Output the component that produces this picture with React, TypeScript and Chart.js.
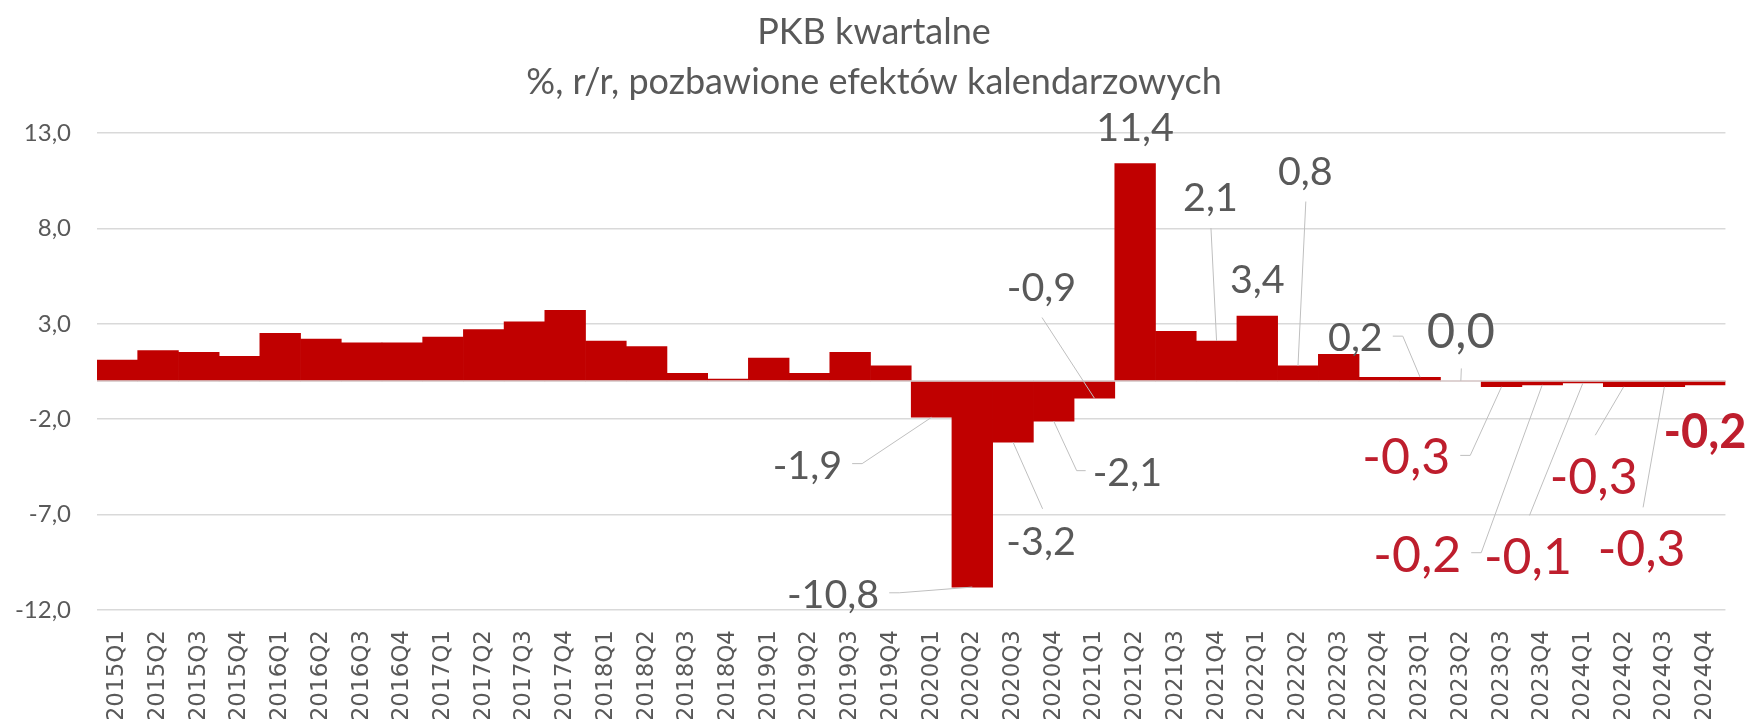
import React, { useEffect, useRef } from 'react';
import { Chart, registerables } from 'chart.js';

Chart.register(...registerables);

// ---- data ----
const TITLE_LINES = ['PKB kwartalne', '%, r/r, pozbawione efektów kalendarzowych'];

const QUARTERS = [
  '2015Q1', '2015Q2', '2015Q3', '2015Q4',
  '2016Q1', '2016Q2', '2016Q3', '2016Q4',
  '2017Q1', '2017Q2', '2017Q3', '2017Q4',
  '2018Q1', '2018Q2', '2018Q3', '2018Q4',
  '2019Q1', '2019Q2', '2019Q3', '2019Q4',
  '2020Q1', '2020Q2', '2020Q3', '2020Q4',
  '2021Q1', '2021Q2', '2021Q3', '2021Q4',
  '2022Q1', '2022Q2', '2022Q3', '2022Q4',
  '2023Q1', '2023Q2', '2023Q3', '2023Q4',
  '2024Q1', '2024Q2', '2024Q3', '2024Q4',
];

const GDP_YY = [
  1.1, 1.6, 1.5, 1.3,
  2.5, 2.2, 2.0, 2.0,
  2.3, 2.7, 3.1, 3.7,
  2.1, 1.8, 0.4, 0.1,
  1.2, 0.4, 1.5, 0.8,
  -1.9, -10.8, -3.2, -2.1,
  -0.9, 11.4, 2.6, 2.1,
  3.4, 0.8, 1.4, 0.2,
  0.2, 0.0, -0.3, -0.2,
  -0.1, -0.3, -0.3, -0.2,
];

const Y_MIN = -12;
const Y_MAX = 13;
const Y_STEP = 5;

// ---- label layout (offsets from bar end: dx in categories, dy in value units) ----
const GRAY = '#595959';
const RED = '#BE1E2D';
type Side = 'none' | 'left' | 'right' | 'top' | 'bottom';
interface LabelSpec { i: number; dx: number; dy: number; side: Side; size: number; color: string; bold?: boolean }

const LABEL_LAYOUT: LabelSpec[] = [
  { i: 20, dx: -3.05, dy: -2.48, side: 'right', size: 39.5, color: GRAY },
  { i: 21, dx: -3.42, dy: -0.35, side: 'right', size: 39.5, color: GRAY },
  { i: 22, dx: 0.69, dy: -5.17, side: 'top', size: 39.5, color: GRAY },
  { i: 23, dx: 1.81, dy: -2.65, side: 'left', size: 39.5, color: GRAY },
  { i: 24, dx: -1.3, dy: 5.84, side: 'bottom', size: 39.5, color: GRAY },
  { i: 25, dx: 0, dy: 1.9, side: 'none', size: 39.5, color: GRAY },
  { i: 27, dx: -0.15, dy: 7.53, side: 'bottom', size: 39.5, color: GRAY },
  { i: 28, dx: 0, dy: 1.96, side: 'none', size: 39.5, color: GRAY },
  { i: 29, dx: 0.18, dy: 10.22, side: 'bottom', size: 39.5, color: GRAY },
  { i: 32, dx: -1.59, dy: 2.1, side: 'right', size: 39.5, color: GRAY },
  { i: 33, dx: 0, dy: 2.66, side: 'bottom', size: 49, color: GRAY },
  { i: 34, dx: -2.34, dy: -3.65, side: 'right', size: 50, color: RED },
  { i: 35, dx: -3.07, dy: -8.85, side: 'right', size: 50, color: RED },
  { i: 36, dx: -1.35, dy: -9.06, side: 'top', size: 50, color: RED },
  { i: 37, dx: -0.735, dy: -4.66, side: 'top', size: 50, color: RED },
  { i: 38, dx: -0.56, dy: -8.44, side: 'top', size: 50, color: RED },
  { i: 39, dx: 0, dy: -2.44, side: 'none', size: 47, color: RED, bold: true },
];

const fmt = (v: number) => Number(v).toFixed(1).replace('.', ',');

const pkbPlugin = {
  id: 'pkbPlugin',
  afterDatasetsDraw(chart: any) {
    const { ctx, chartArea, scales } = chart;
    const y0 = scales.y.getPixelForValue(0);
    ctx.save();
    ctx.strokeStyle = '#D9D9D9';
    ctx.lineWidth = 1.5;
    ctx.beginPath();
    ctx.moveTo(chartArea.left, y0);
    ctx.lineTo(chartArea.right, y0);
    ctx.stroke();
    ctx.restore();
  },
  afterDraw(chart: any) {
    const { ctx, scales } = chart;
    const xs = scales.x;
    const ys = scales.y;
    ctx.save();
    // title
    ctx.fillStyle = GRAY;
    ctx.font = '36px Lato';
    ctx.textAlign = 'center';
    ctx.textBaseline = 'alphabetic';
    ctx.fillText(TITLE_LINES[0], 874, 43.5);
    ctx.fillText(TITLE_LINES[1], 874, 93.5);

    // data labels with leader lines
    for (const L of LABEL_LAYOUT) {
      const v = GDP_YY[L.i];
      const bx = xs.getPixelForValue(L.i);
      const by = ys.getPixelForValue(v);
      const cx = xs.getPixelForValue(L.i + L.dx);
      const cy = ys.getPixelForValue(v + L.dy);
      const capH = 0.7165 * L.size;
      ctx.font = `${L.bold ? 'bold ' : ''}${L.size}px Lato`;
      const text = fmt(v);
      const w = ctx.measureText(text).width;
      ctx.fillStyle = L.color;
      ctx.textAlign = 'center';
      ctx.fillText(text, cx, cy + capH / 2);

      if (L.side !== 'none') {
        const pts: [number, number][] = [];
        if (L.side === 'right') {
          const px = cx + w / 2 + 10;
          pts.push([px, cy - 1], [px + 10, cy - 1]);
        } else if (L.side === 'left') {
          const px = cx - w / 2 - 7;
          pts.push([px, cy - 1], [px - 9, cy - 1]);
        } else if (L.side === 'top') {
          pts.push([cx + 1.5, cy - capH / 2 - 0.45 * L.size]);
        } else {
          pts.push([cx + 0.5, cy + capH / 2 + 0.42 * L.size]);
        }
        pts.push([bx, by]);
        ctx.strokeStyle = '#BFBFBF';
        ctx.lineWidth = 1;
        ctx.beginPath();
        ctx.moveTo(pts[0][0], pts[0][1]);
        for (let k = 1; k < pts.length; k++) ctx.lineTo(pts[k][0], pts[k][1]);
        ctx.stroke();
      }
    }
    ctx.restore();
  },
};

export default function App() {
  const ref = useRef<HTMLCanvasElement>(null);
  useEffect(() => {
    document.body.style.margin = '0';
    const canvas = ref.current;
    if (!canvas) return;
    const chart = new Chart(canvas, {
      type: 'bar',
      data: {
        labels: QUARTERS,
        datasets: [
          {
            data: GDP_YY,
            backgroundColor: '#C00000',
            borderWidth: 0,
            barPercentage: 1,
            categoryPercentage: 1,
          },
        ],
      },
      options: {
        responsive: false,
        animation: false,
        layout: { padding: { top: 133, right: 24, bottom: 0, left: 0 } },
        plugins: {
          legend: { display: false },
          title: { display: false },
          tooltip: { enabled: false },
        },
        scales: {
          x: {
            grid: { display: false, drawTicks: false },
            border: { display: false },
            ticks: {
              autoSkip: false,
              minRotation: 90,
              maxRotation: 90,
              padding: 20,
              color: GRAY,
              font: { family: 'DejaVu Sans', size: 23 },
            },
            afterFit: (s: any) => { s.height = 109; },
          },
          y: {
            min: Y_MIN,
            max: Y_MAX,
            grid: { color: '#D9D9D9', lineWidth: 1.5, drawTicks: false },
            border: { display: false },
            ticks: {
              stepSize: Y_STEP,
              padding: 26,
              color: GRAY,
              font: { family: 'Lato', size: 24 },
              callback: (v: any) => fmt(v),
            },
            afterFit: (s: any) => { s.width = 97; },
          },
        },
      },
      plugins: [pkbPlugin],
    } as any);
    return () => chart.destroy();
  }, []);
  return (
    <div style={{ width: 1753, height: 719, position: 'relative', overflow: 'hidden' }}>
      <canvas ref={ref} width={1753} height={719} style={{ display: 'block', width: 1753, height: 719 }} />
    </div>
  );
}
